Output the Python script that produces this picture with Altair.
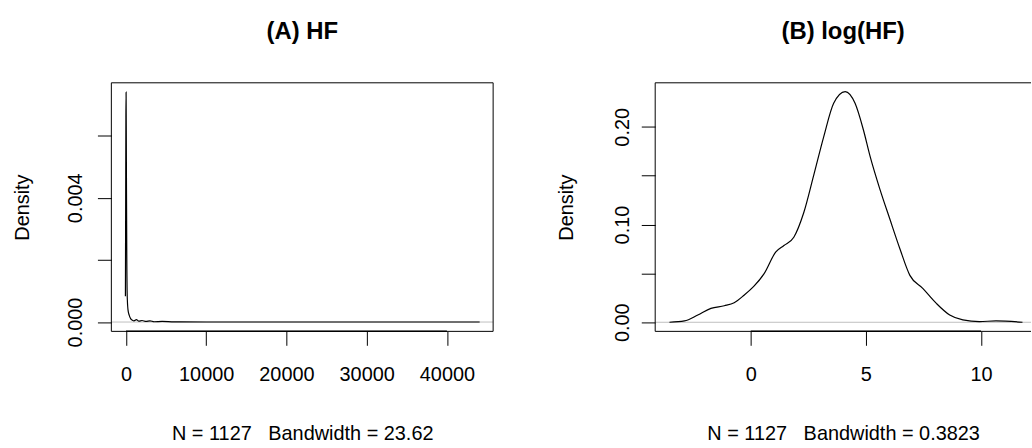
import altair as alt
import pandas as pd

FONT = "Liberation Sans"

# ---------------- Panel A: density of HF ----------------
hf_x = [-70, -40, -10, 15, 50, 100, 160, 250, 400, 600, 800, 1000, 1300, 1600,
        2000, 2500, 3000, 3500, 4500, 6000, 10000, 20000, 30000, 44080]
hf_d = [0.00083, 0.0035, 0.0066, 0.0074, 0.0052, 0.0022, 0.0008, 0.00040,
        0.00022, 0.00010, 0.00006, 0.00004, 0.00008, 0.00003, 0.00005, 0.00002,
        0.00004, 0.00001, 0.00002, 0.000005, 0.000002, 0.000001, 0.000001, 0.000002]
a_xticks = [0, 10000, 20000, 30000, 40000]
a_yticks = [0, 0.002, 0.004, 0.006]
a_ylabels = ["0.000", "", "0.004", ""]
a_title = "(A) HF"
a_sub = "N = 1127\u00a0\u00a0\u00a0Bandwidth = 23.62"
a_xdomain = [-1822, 45760]
a_ydomain = [-0.0003, 0.0077]

# ---------------- Panel B: density of log(HF) ----------------
lhf_x = [-3.53, -2.88, -2.30, -1.73, -1.15, -0.72, -0.29, 0.14, 0.58, 1.08, 1.44,
         1.87, 2.30, 2.73, 3.17, 3.60, 4.10, 4.53, 4.89, 5.18, 5.61, 6.04, 6.48,
         6.91, 7.48, 8.06, 8.64, 9.21, 9.93, 10.65, 11.8]
lhf_d = [0.0, 0.0014, 0.0074, 0.0142, 0.0169, 0.0200, 0.0277, 0.0369, 0.0497,
         0.0717, 0.0785, 0.0870, 0.112, 0.150, 0.190, 0.224, 0.236, 0.224, 0.197,
         0.170, 0.136, 0.1056, 0.075, 0.048, 0.0345, 0.0193, 0.0074, 0.0024,
         0.0007, 0.0014, 0.0]
b_xticks = [0, 5, 10]
b_yticks = [0, 0.05, 0.10, 0.15, 0.20]
b_ylabels = ["0.00", "", "0.10", "", "0.20"]
b_title = "(B) log(HF)"
b_sub = "N = 1127\u00a0\u00a0\u00a0Bandwidth = 0.3823"
b_xdomain = [-4.15, 12.17]
b_ydomain = [-0.0093, 0.245]

H = 250


def label_expr(values, labels):
    parts = []
    for v, l in zip(values, labels):
        parts.append(f"abs(datum.value - ({v})) < 1e-9 ? '{l}'")
    return " : ".join(parts) + " : ''"


def panel(xs, ds, xticks, xfmt, yticks, ylabels, title, sub, xdom, ydom, W,
          ylabpad, right_border=True):
    df = pd.DataFrame({"x": xs, "d": ds})
    xscale = alt.Scale(domain=xdom, nice=False, zero=False)
    yscale = alt.Scale(domain=ydom, nice=False, zero=False)
    xaxis = alt.Axis(values=xticks, format=xfmt, domain=False, grid=False,
                     tickSize=14, tickColor="black", tickWidth=1,
                     labelFont=FONT, labelFontSize=20, labelColor="black",
                     labelPadding=19, labelFlush=False, labelOverlap=False,
                     title=sub, titleFont=FONT, titleFontSize=20,
                     titleFontWeight="normal", titleColor="black",
                     titleBaseline="alphabetic", titleAlign="center",
                     titleX=W / 2, titleY=108.5)
    yaxis = alt.Axis(values=yticks, labelExpr=label_expr(yticks, ylabels),
                     domain=False, grid=False,
                     tickSize=14, tickColor="black", tickWidth=1,
                     labelFont=FONT, labelFontSize=20, labelColor="black",
                     labelAngle=270, labelAlign="center",
                     labelBaseline="alphabetic", labelPadding=ylabpad,
                     labelOverlap=False, labelFlush=False,
                     title="Density", titleFont=FONT, titleFontSize=20,
                     titleFontWeight="normal", titleColor="black",
                     titleAngle=270, titleBaseline="alphabetic",
                     titleAlign="center", titleX=-83.5, titleY=H / 2)
    line = alt.Chart(df).mark_line(color="black", strokeWidth=1.2,
                                   interpolate="monotone", clip=True).encode(
        x=alt.X("x:Q", scale=xscale, axis=xaxis),
        y=alt.Y("d:Q", scale=yscale, axis=yaxis),
    )
    zero = alt.Chart(pd.DataFrame({"z": [0]})).mark_rule(
        color="#bebebe", strokeWidth=1).encode(
        y=alt.Y("z:Q", scale=yscale), x=alt.value(0), x2=alt.value(W))
    axline = alt.Chart(pd.DataFrame({"a": [xticks[0]], "b": [xticks[-1]]})).mark_rule(
        color="black", strokeWidth=1.5).encode(
        x=alt.X("a:Q", scale=xscale), x2="b:Q", y=alt.value(H))
    edges = [
        alt.Chart(pd.DataFrame({"k": [0]})).mark_rule(color="black", strokeWidth=1).encode(
            x=alt.value(0), x2=alt.value(W), y=alt.value(0)),
        alt.Chart(pd.DataFrame({"k": [0]})).mark_rule(color="black", strokeWidth=1).encode(
            x=alt.value(0), x2=alt.value(W), y=alt.value(H)),
        alt.Chart(pd.DataFrame({"k": [0]})).mark_rule(color="black", strokeWidth=1).encode(
            x=alt.value(0), y=alt.value(0), y2=alt.value(H)),
    ]
    if right_border:
        edges.append(
            alt.Chart(pd.DataFrame({"k": [0]})).mark_rule(color="black", strokeWidth=1).encode(
                x=alt.value(W), y=alt.value(0), y2=alt.value(H)))
    layers = [zero, line, axline] + edges
    return alt.layer(*layers).properties(
        width=W, height=H,
        title=alt.TitleParams(title, font=FONT, fontSize=24, fontWeight="bold",
                              color="black", anchor="middle",
                              baseline="alphabetic", offset=19.5),
    )


pa = panel(hf_x, hf_d, a_xticks, "d", a_yticks, a_ylabels, a_title, a_sub,
           a_xdomain, a_ydomain, 384, 16, True)
pb = panel(lhf_x, lhf_d, b_xticks, "d", b_yticks, b_ylabels, b_title, b_sub,
           b_xdomain, b_ydomain, 378, 13, False)

chart = alt.hconcat(pa, pb, spacing=62).properties(
    padding={"left": 12, "top": 18, "right": 0, "bottom": 0},
    background="white",
).configure_view(stroke="transparent")

chart.save("out.html", embed_options={"renderer": "svg", "actions": False})
